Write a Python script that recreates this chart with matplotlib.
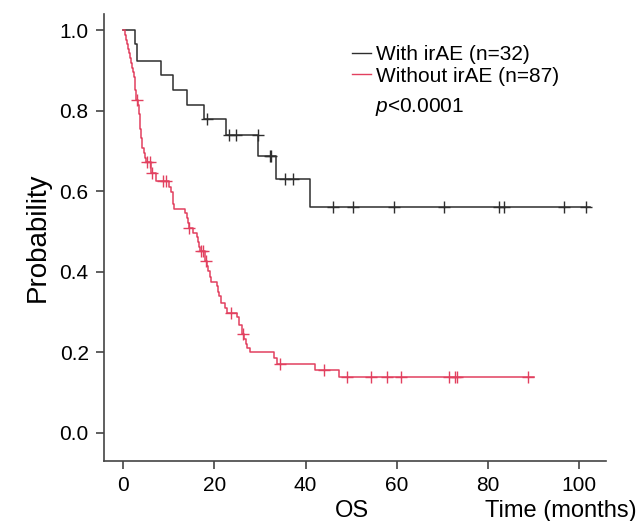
import numpy as np
import matplotlib
matplotlib.use("Agg")
import matplotlib.pyplot as plt

plt.rcParams['font.family'] = ['Liberation Sans', 'DejaVu Sans']
plt.rcParams['mathtext.fontset'] = 'custom'
plt.rcParams['mathtext.rm'] = 'Liberation Sans'
plt.rcParams['mathtext.it'] = 'Liberation Sans:italic'

# with irAE (n=32): step times and survival after each step
irae_t = [0, 2.5, 3.1, 8.3, 11.0, 14.0, 17.7, 22.6, 29.6, 33.6, 40.9, 102.4]
irae_s = [1.0, 0.967, 0.925, 0.889, 0.853, 0.815, 0.779, 0.740, 0.689, 0.631, 0.561, 0.561]
irae_cens = [18.3, 23.3, 24.7, 29.5, 32.2, 32.5, 35.5, 37.3, 46.0, 50.5, 59.4, 70.4,
             82.5, 83.6, 96.6, 101.5]

# without irAE (n=87)
noirae_t = [0, 0.3, 0.6, 0.9, 1.1, 1.3, 1.5, 1.7, 1.9, 2.1, 2.3, 2.5, 2.6, 2.7, 2.8, 2.9,
            3.3, 3.4, 3.5, 3.6, 3.7, 3.8, 3.9, 4.0, 4.1, 4.2, 4.5, 4.8, 5.0,
            6.1, 6.2, 7.2, 10.0, 10.6, 10.9, 11.0, 11.2, 13.6, 14.1, 14.3, 14.4,
            15.4, 16.2, 16.4, 16.7, 16.9, 17.9, 18.0, 18.4, 18.6, 19.0, 19.2,
            20.5, 20.8, 21.0, 21.5, 22.4, 22.7, 24.9, 25.3, 26.0, 26.1,
            26.5, 26.9, 27.2, 27.9, 33.1, 33.7, 42.1, 47.4, 90.0]
noirae_s = [1.0, 0.989, 0.977, 0.966, 0.954, 0.943, 0.931, 0.920, 0.908, 0.897, 0.885, 0.874,
            0.862, 0.851, 0.839, 0.828,
            0.816, 0.804, 0.792, 0.780, 0.768, 0.756, 0.744, 0.732, 0.720, 0.708, 0.696, 0.684, 0.672,
            0.658, 0.645, 0.627, 0.612, 0.598, 0.584, 0.570, 0.556, 0.546, 0.534, 0.521, 0.508,
            0.497, 0.486, 0.474, 0.463, 0.451, 0.440, 0.428, 0.415, 0.401, 0.388, 0.376,
            0.364, 0.351, 0.339, 0.322, 0.310, 0.298, 0.289, 0.268, 0.257, 0.246,
            0.234, 0.222, 0.210, 0.202, 0.186, 0.171, 0.157, 0.140, 0.140]
noirae_cens = [3.0, 5.2, 5.9, 6.3, 8.8, 9.4, 14.5, 17.1, 17.6, 18.2, 23.6, 26.2, 34.4,
               44.1, 49.2, 54.3, 57.8, 60.9, 71.5, 72.8, 73.2, 88.9]

c_black = '#2e2e2e'
c_red = '#e2405f'

fig = plt.figure(figsize=(6.41, 5.21), dpi=100)
ax = fig.add_axes([104/641, 1-461/521, (606-104)/641, (461-14)/521])

def km(t, s, cens, col, lab):
    t = np.array(t); s = np.array(s)
    ax.step(t, s, where='post', color=col, lw=1.1, label=lab)
    idx = np.searchsorted(t, cens, side='right') - 1
    ax.plot(cens, s[idx], ls='none', marker='+', ms=8, mew=1.0, color=col)

km(irae_t, irae_s, irae_cens, c_black, 'With irAE (n=32)')
km(noirae_t, noirae_s, noirae_cens, c_red, 'Without irAE (n=87)')

ax.set_xlim(-4.2, 105.9)
ax.set_ylim(-0.07, 1.041)
ax.set_xticks([0, 20, 40, 60, 80, 100])
ax.set_yticks([0.0, 0.2, 0.4, 0.6, 0.8, 1.0])
ax.set_yticklabels(['0.0', '0.2', '0.4', '0.6', '0.8', '1.0'])
for s in ['top', 'right']:
    ax.spines[s].set_visible(False)
for s in ['left', 'bottom']:
    ax.spines[s].set_color('#444444')
    ax.spines[s].set_linewidth(1.2)
ax.tick_params(direction='out', length=6, width=1.2, color='#444444',
               labelsize=15, pad=5)
ax.set_ylabel('Probability', fontsize=20, labelpad=6)

fig.text(352/641, 1-511/521, 'OS', fontsize=17, ha='center', va='center')
fig.text(637/641, 1-511/521, 'Time (months)', fontsize=17, ha='right', va='center')

leg = ax.legend(loc='upper left', bbox_to_anchor=(352/641, 1-45/521),
                bbox_transform=fig.transFigure, frameon=False, fontsize=15,
                handlelength=0.9, handletextpad=0.25, labelspacing=0.12,
                borderpad=0, borderaxespad=0)
for h in leg.get_lines():
    h.set_linewidth(1.0)
fig.text(375/641, 1-107/521, '$p$<0.0001', fontsize=15, ha='left', va='center')

fig.savefig('out.png', dpi=100)
